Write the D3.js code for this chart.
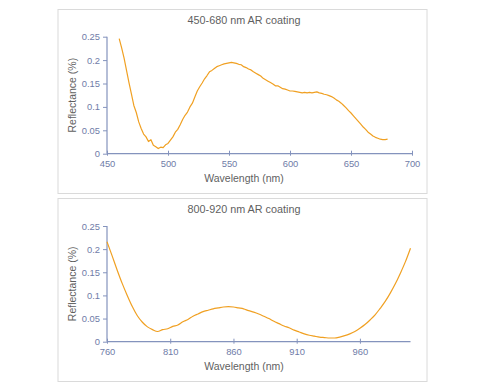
<!DOCTYPE html>
<html>
<head>
<meta charset="utf-8">
<script src="https://cdn.jsdelivr.net/npm/d3@7"></script>
<style>
  body { margin: 0; background: #fff; }
  svg { display: block; font-family: "Liberation Sans", Arial, sans-serif; }
</style>
</head>
<body>
<svg id="chart" width="480" height="387"></svg>
<script>
// 450-680 nm coating, sampled every 2 nm from 460 to 680
const visWave = d3.range(460, 681, 2);
const visRefl = [
  0.246, 0.226, 0.204, 0.178, 0.152, 0.128, 0.103, 0.088, 0.068, 0.054,
  0.042, 0.036, 0.026, 0.030, 0.018, 0.015, 0.011, 0.014, 0.013, 0.019,
  0.022, 0.029, 0.036, 0.046, 0.052, 0.062, 0.073, 0.082, 0.089, 0.100,
  0.108, 0.121, 0.134, 0.143, 0.151, 0.160, 0.167, 0.175, 0.178, 0.182,
  0.186, 0.188, 0.190, 0.192, 0.193, 0.194, 0.195, 0.194, 0.193, 0.191,
  0.190, 0.186, 0.184, 0.181, 0.179, 0.175, 0.172, 0.169, 0.166, 0.161,
  0.158, 0.155, 0.152, 0.149, 0.145, 0.145, 0.142, 0.139, 0.138, 0.136,
  0.134, 0.134, 0.133, 0.132, 0.131, 0.130, 0.131, 0.130, 0.131, 0.130,
  0.131, 0.132, 0.130, 0.129, 0.127, 0.126, 0.124, 0.122, 0.119, 0.115,
  0.112, 0.108, 0.103, 0.098, 0.092, 0.087, 0.081, 0.075, 0.069, 0.063,
  0.057, 0.052, 0.046, 0.042, 0.038, 0.035, 0.033, 0.031, 0.030, 0.030,
  0.031
];

// 800-920 nm coating, sampled every 4 nm from 760 to 1000
const nirWave = d3.range(760, 1001, 4);
const nirRefl = [
  0.216, 0.186, 0.155, 0.126, 0.100, 0.076, 0.056, 0.042, 0.032, 0.026,
  0.022, 0.026, 0.028, 0.033, 0.036, 0.043, 0.048, 0.055, 0.060, 0.065,
  0.068, 0.071, 0.073, 0.075, 0.076, 0.075, 0.073, 0.071, 0.067, 0.064,
  0.060, 0.055, 0.050, 0.044, 0.039, 0.034, 0.030, 0.025, 0.021, 0.017,
  0.014, 0.012, 0.010, 0.009, 0.008, 0.008, 0.010, 0.013, 0.017, 0.022,
  0.029, 0.037, 0.047, 0.058, 0.072, 0.087, 0.105, 0.125, 0.148, 0.173,
  0.202
];

const yTicks = [0, 0.05, 0.1, 0.15, 0.2, 0.25];
const visXTicks = [450, 500, 550, 600, 650, 700];
const nirXTicks = [760, 810, 860, 910, 960];

const axisColor = "#8493bd";
const tickText = "#6f7ca8";
const lineColor = "#f0a022";

const svg = d3.select("#chart");

function drawPanel(opt) {
  const g = svg.append("g").attr("transform", `translate(0, ${opt.top})`);

  g.append("rect")
    .attr("x", 58).attr("y", 0.5)
    .attr("width", 369).attr("height", opt.boxH)
    .attr("fill", "#fff")
    .attr("stroke", "#dadada");

  const x = d3.scaleLinear().domain(opt.xDomain).range([107, opt.xRight]);
  const y = d3.scaleLinear().domain([0, 0.25]).range([opt.plotBottom, opt.plotTop]);

  g.append("text")
    .attr("x", 244).attr("y", opt.titleY)
    .attr("text-anchor", "middle")
    .attr("font-size", 10.8)
    .attr("fill", "#5f5f5f")
    .text(opt.title);

  // y axis
  const yAxis = g.append("g")
    .attr("transform", "translate(107,0)")
    .call(d3.axisLeft(y).tickValues(yTicks).tickSize(4).tickPadding(3)
      .tickFormat(d => d3.format("")(+d.toFixed(2))));
  // x axis
  const xAxis = g.append("g")
    .attr("transform", `translate(0,${opt.plotBottom})`)
    .call(d3.axisBottom(x).tickValues(opt.xTicks).tickSize(0).tickPadding(7)
      .tickFormat(d3.format("d")));
  xAxis.selectAll(".tick line").attr("y1", -3).attr("y2", 2);

  [xAxis, yAxis].forEach(a => {
    a.select(".domain").attr("stroke", axisColor).attr("stroke-width", 1.2);
    a.selectAll(".tick line").attr("stroke", axisColor);
    a.selectAll(".tick text").attr("fill", tickText).attr("font-size", 9.4)
      .attr("font-family", "'Liberation Sans', Arial, sans-serif");
  });
  // excel-style: no end caps on domain
  yAxis.select(".domain").attr("d", `M0,${opt.plotTop}V${opt.plotBottom}`);
  xAxis.select(".domain").attr("d", `M107,0H${opt.xRight}`);

  g.append("text")
    .attr("x", 244).attr("y", opt.plotBottom + 28)
    .attr("text-anchor", "middle")
    .attr("font-size", 10.5)
    .attr("fill", "#5f5f5f")
    .text("Wavelength (nm)");

  g.append("text")
    .attr("transform", `translate(76,${(opt.plotTop + opt.plotBottom) / 2}) rotate(-90)`)
    .attr("text-anchor", "middle")
    .attr("font-size", 10.5)
    .attr("fill", "#5f5f5f")
    .text("Reflectance (%)");

  const pts = opt.wave.map((w, i) => [w, opt.refl[i]]);
  g.append("path")
    .datum(pts)
    .attr("fill", "none")
    .attr("stroke", lineColor)
    .attr("stroke-width", 1.2)
    .attr("stroke-linejoin", "round")
    .attr("d", d3.line().x(d => x(d[0])).y(d => y(d[1])).curve(opt.curve));
}

drawPanel({
  top: 9, boxH: 184, title: "450-680 nm AR coating", titleY: 15,
  xDomain: [450, 700], xRight: 412, xTicks: visXTicks,
  plotTop: 27.7, plotBottom: 144.7,
  wave: visWave, refl: visRefl, curve: d3.curveLinear
});

drawPanel({
  top: 198, boxH: 183, title: "800-920 nm AR coating", titleY: 15,
  xDomain: [760, 1000], xRight: 410.5, xTicks: nirXTicks,
  plotTop: 28, plotBottom: 143.7,
  wave: nirWave, refl: nirRefl, curve: d3.curveMonotoneX
});
</script>
</body>
</html>
